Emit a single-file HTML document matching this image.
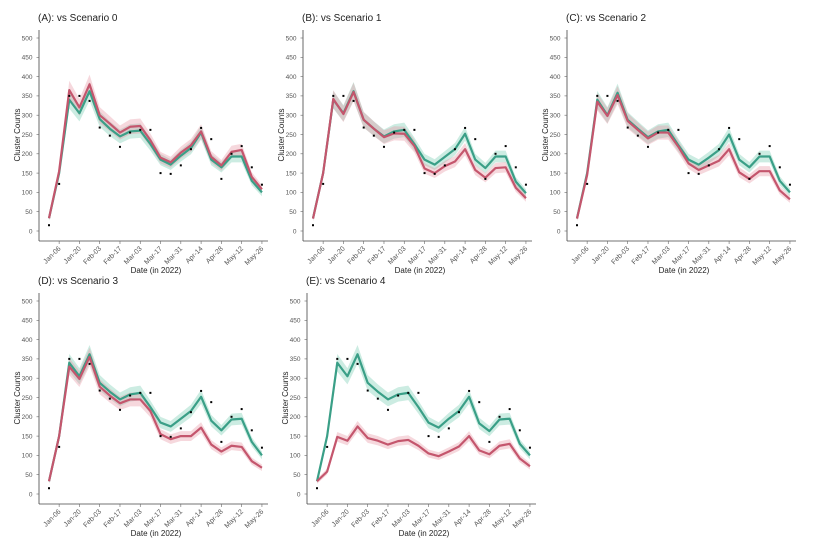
<!DOCTYPE html>
<html><head><meta charset="utf-8"><style>
body{margin:0;background:#fff;}
svg{display:block;font-family:"Liberation Sans",sans-serif;}
</style></head><body>
<svg id="c" width="814" height="552" viewBox="0 0 814 552"></svg>
<script>
const dates=["Dec-30","Jan-06","Jan-13","Jan-20","Jan-27","Feb-03","Feb-10","Feb-17","Feb-24","Mar-03","Mar-10","Mar-17","Mar-24","Mar-31","Apr-07","Apr-14","Apr-21","Apr-28","May-05","May-12","May-19","May-26"];
const tickLabels=["Jan-06","Jan-20","Feb-03","Feb-17","Mar-03","Mar-17","Mar-31","Apr-14","Apr-28","May-12","May-26"];
const yTicks=[0,50,100,150,200,250,300,350,400,450,500];
const observed=[15,122,350,350,337,268,247,218,255,262,262,150,148,170,212,267,238,135,200,220,165,120];
const greenA=[33,150,340,305,362,290,265,245,258,260,225,185,172,195,215,255,185,165,193,193,130,100];
const redA=[33,155,365,320,380,300,278,255,270,272,235,190,178,203,222,258,192,170,205,210,140,108];
const greenB=[33,150,340,305,362,288,265,245,258,262,225,185,172,192,212,252,185,163,193,193,128,98];
const redB=[32,150,342,303,360,288,265,243,253,252,220,162,150,168,180,212,158,138,163,165,112,85];
const greenC=[33,150,340,300,358,288,265,243,258,262,222,185,172,190,210,250,185,165,193,193,130,100];
const redC=[32,145,335,298,352,285,262,240,255,255,218,175,158,170,182,212,152,135,155,155,105,82];
const greenD=[33,150,340,305,362,288,265,245,258,262,225,185,175,195,215,252,190,165,193,195,135,100];
const redD=[33,150,330,298,355,278,255,235,245,245,215,155,142,150,150,172,128,110,125,122,85,68];
const greenE=[33,150,340,305,362,288,265,245,258,262,225,185,172,195,215,252,183,163,193,195,130,100];
const redE=[33,58,148,138,175,145,138,128,137,140,125,105,98,110,123,150,113,103,125,130,92,72];
const panels=[
 {t:"(A): vs Scenario 0",g:greenA,r:redA,ox:0,oy:0},
 {t:"(B): vs Scenario 1",g:greenB,r:redB,ox:264,oy:0},
 {t:"(C): vs Scenario 2",g:greenC,r:redC,ox:528,oy:0},
 {t:"(D): vs Scenario 3",g:greenD,r:redD,ox:0,oy:263},
 {t:"(E): vs Scenario 4",g:greenE,r:redE,ox:268,oy:263}
];
const NS="http://www.w3.org/2000/svg";
const svg=document.getElementById('c');
function mk(tag,at,par){const e=document.createElementNS(NS,tag);for(const k in at)e.setAttribute(k,at[k]);(par||svg).appendChild(e);return e;}
const BAND=16;
panels.forEach((p,pi)=>{
 const g=mk('g',{transform:`translate(${p.ox},${p.oy})`});
 
 
 const xs=i=>49+i*10.14;
 const ys=v=>231-v*0.386;
 const ti=mk('text',{x:38,y:21,'font-size':10,fill:'#222'},g);ti.textContent=p.t;
 
 
 mk('line',{x1:39,y1:30,x2:39,y2:241,stroke:'#444','stroke-width':0.8},g);
 mk('line',{x1:39,y1:241,x2:268,y2:241,stroke:'#444','stroke-width':0.8},g);
 yTicks.forEach(v=>{
  const t=mk('text',{x:32.5,y:ys(v)+2.3,'font-size':6.5,fill:'#555','text-anchor':'end'},g);t.textContent=v;
  
  
  mk('line',{x1:36.5,y1:ys(v),x2:39,y2:ys(v),stroke:'#666','stroke-width':0.6},g);
 });
 tickLabels.forEach(l=>{
  const i=dates.indexOf(l);const x=xs(i);
  mk('line',{x1:x,y1:241,x2:x,y2:244,stroke:'#666','stroke-width':0.6},g);
  const t=mk('text',{x:x+2,y:249,'font-size':7,fill:'#555','text-anchor':'end',transform:`rotate(-45 ${x+2} 249)`},g);t.textContent=l;
  
  
 });
 const yt=mk('text',{x:20,y:135,'font-size':8,fill:'#222','text-anchor':'middle',transform:'rotate(-90 20 135)'},g);yt.textContent="Cluster Counts";
 
 
 const xt=mk('text',{x:156,y:273,'font-size':8,fill:'#222','text-anchor':'middle'},g);xt.textContent="Date (in 2022)";
 
 
 [[p.g,'#6cc9ad','baseline'],[p.r,'#e6909f','scenario']].forEach(([arr,fc,nm])=>{
  const up=arr.map((v,i)=>xs(i)+','+ys(v+BAND*(v/300+0.3)));
  const dn=arr.map((v,i)=>xs(i)+','+ys(Math.max(0,v-BAND*(v/300+0.3)))).reverse();
  const band=mk('polygon',{points:up.concat(dn).join(' '),fill:fc,'fill-opacity':0.35},g);
  
  
 });
 [[p.g,'#3a9f87','baseline'],[p.r,'#c4566d','scenario']].forEach(([arr,lc,nm])=>{
  const ln=mk('polyline',{points:arr.map((v,i)=>xs(i)+','+ys(v)).join(' '),fill:'none',stroke:lc,'stroke-width':2.2,'stroke-linejoin':'round'},g);
  
  
 });
 observed.forEach((v,i)=>{
  const d=mk('rect',{x:xs(i)-1,y:ys(v)-1,width:2,height:2,fill:'#000'},g);
  
  
 });
});
</script>
</body></html>
